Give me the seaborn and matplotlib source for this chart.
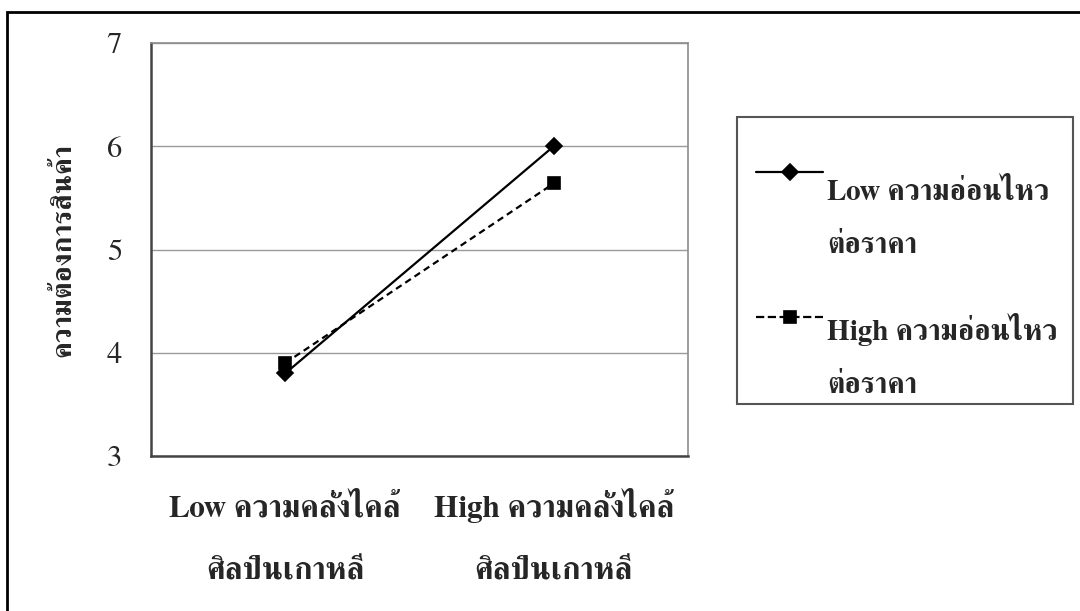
import matplotlib
matplotlib.use("Agg")
import matplotlib.pyplot as plt
from matplotlib.patches import Rectangle
import pandas as pd
import seaborn as sns

# Chart data
categories = ["Low ความคลั่งไคล้\nศิลปินเกาหลี", "High ความคลั่งไคล้\nศิลปินเกาหลี"]
series = ["Low ความอ่อนไหว\nต่อราคา", "High ความอ่อนไหว\nต่อราคา"]
low_sensitivity = [3.80, 6.00]
high_sensitivity = [3.90, 5.64]
y_ticks = [3, 4, 5, 6, 7]
y_label = "ความต้องการสินค้า"

df = pd.DataFrame({
    "cat": categories * 2,
    "group": [series[0]] * 2 + [series[1]] * 2,
    "value": low_sensitivity + high_sensitivity,
})

sns.set_theme(style="white")
plt.rcParams["font.family"] = ["FreeSerif", "DejaVu Serif"]

fig = plt.figure(figsize=(10.8, 6.11), dpi=100)
ax = fig.add_axes([0.1398, 0.2537, 0.4972, 0.6759])

sns.pointplot(
    data=df, x="cat", y="value", hue="group", order=categories, hue_order=series,
    palette=["black", "black"], markers=["D", "s"], linestyles=["-", "--"],
    errorbar=None, dodge=False, ax=ax, markersize=8, linewidth=1.6,
)
for line in ax.lines:
    if line.get_linestyle() == "--":
        line.set_dashes((3, 2))

ax.set_xlim(-0.5, 1.5)
ax.set_ylim(3, 7)
ax.set_yticks(y_ticks)
ax.yaxis.grid(True, color="#9a9a9a", linewidth=1.0)
ax.set_axisbelow(True)
ax.tick_params(axis="both", length=0)
ax.tick_params(axis="y", labelsize=22, pad=21)
# two-line category labels, anchored on the baseline of the lower line
ax.tick_params(axis="x", labelsize=22.5, pad=89)
for t in ax.get_xticklabels():
    t.set_fontweight("bold")
    t.set_linespacing(2.7)
    t.set_va("baseline")
ax.set_xlabel("")
ax.set_ylabel(y_label, fontsize=20.5, fontweight="bold", labelpad=22)
for side in ("top", "right"):
    ax.spines[side].set_color("#8c8c8c")
    ax.spines[side].set_linewidth(1.2)
for side in ("left", "bottom"):
    ax.spines[side].set_color("#444444")
    ax.spines[side].set_linewidth(1.8)

# Legend in a separate box on the right
old = ax.get_legend()
handles = old.legend_handles
labels = [t.get_text() for t in old.get_texts()]
old.remove()
leg = ax.legend(
    handles, labels, loc="upper left", bbox_to_anchor=(756 / 1080, 1 - 179 / 611),
    bbox_transform=fig.transFigure, frameon=False, prop={"size": 21, "weight": "bold"},
    handlelength=2.3, handletextpad=0.15, borderpad=0, borderaxespad=0, labelspacing=1.85,
)
for t in leg.get_texts():
    t.set_linespacing(2.35)
for h, shift in zip(leg.get_lines(), (33.5, 28)):
    h.set_ydata(h.get_ydata() + shift)
    h.set_color("black")

fig.patches.append(Rectangle((737 / 1080, 1 - 404 / 611), 336 / 1080, 287 / 611,
                             transform=fig.transFigure, fill=False,
                             edgecolor="#555555", linewidth=1.5))
fig.patches.append(Rectangle((7 / 1080, -0.2), 1.2, 1.2 - 12 / 611,
                             transform=fig.transFigure, fill=False,
                             edgecolor="black", linewidth=2))

fig.savefig("out.png", dpi=100)
